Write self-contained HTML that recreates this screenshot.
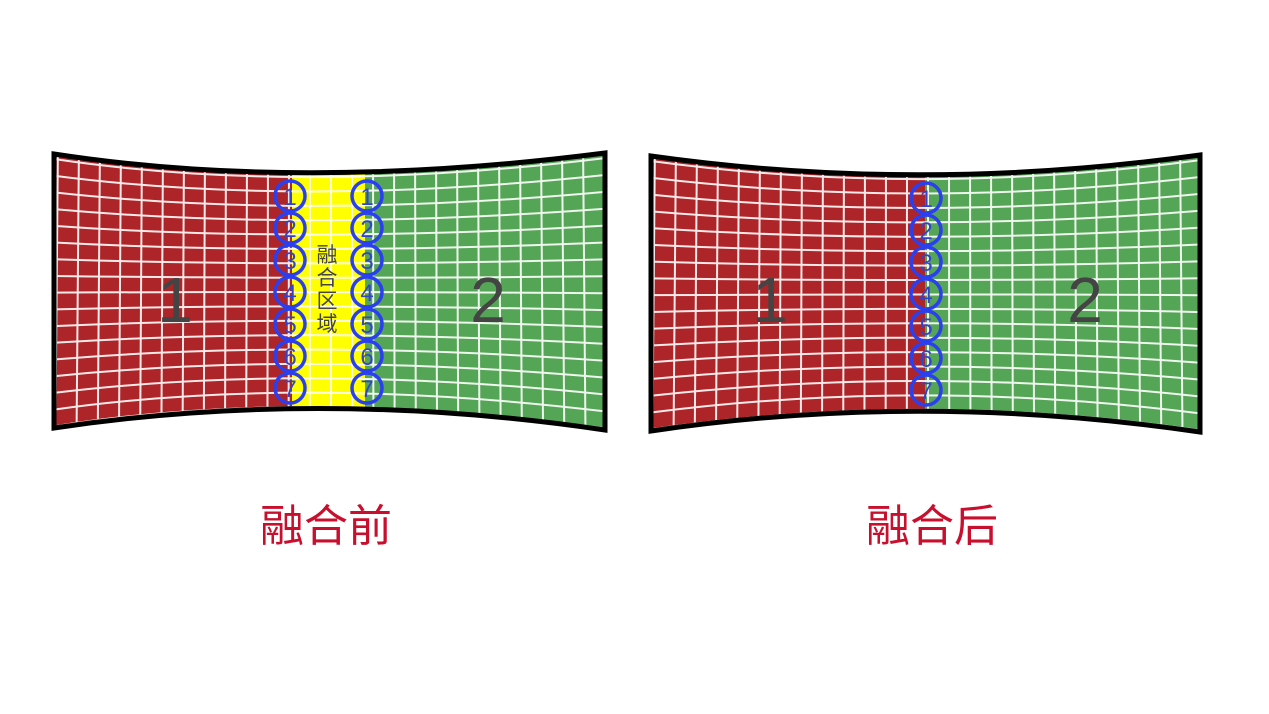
<!DOCTYPE html>
<html><head><meta charset="utf-8"><style>
html,body{margin:0;padding:0;background:#fff;width:1269px;height:714px;overflow:hidden}
svg{display:block}
</style></head><body>
<svg id="s" width="1269" height="714" xmlns="http://www.w3.org/2000/svg">
<defs>
<clipPath id="c1"><path d="M54,154 Q300,192 605,153 L605,430 Q320,388 54,428 Z"/></clipPath>
<clipPath id="c2"><path d="M651,156 Q920,194 1200,155 L1200,432 Q920,391 651,431 Z"/></clipPath>
</defs>
<g clip-path="url(#c1)">
<rect x="40" y="140" width="252" height="300" fill="#ad2528"/>
<rect x="292" y="140" width="73" height="300" fill="#ffff00"/>
<rect x="365" y="140" width="250" height="300" fill="#55a556"/>
<g id="g1" stroke="#fff" stroke-width="2" fill="none" opacity="0.9"></g>
</g>
<g clip-path="url(#c2)">
<rect x="640" y="140" width="285" height="300" fill="#ad2528"/>
<rect x="925" y="140" width="290" height="300" fill="#55a556"/>
<g id="g2" stroke="#fff" stroke-width="2" fill="none" opacity="0.9"></g>
</g>
<path d="M54,154 Q300,192 605,153 L605,430 Q320,388 54,428 Z" fill="none" stroke="#000" stroke-width="5"/>
<path d="M651,156 Q920,194 1200,155 L1200,432 Q920,391 651,431 Z" fill="none" stroke="#000" stroke-width="5"/>
<g id="circ" fill="none" stroke="#2a3ff0" stroke-width="3.5"></g>
<g id="nums" font-family="Liberation Sans, sans-serif" font-size="24" fill="#3344cc" text-anchor="middle"></g>
<g font-family="Liberation Sans, sans-serif" font-size="64" fill="#444" text-anchor="middle">
<text x="175" y="322">1</text><text x="488" y="322">2</text>
<text x="770" y="322">1</text><text x="1085" y="322">2</text>
</g>
<g font-family="Noto Sans CJK SC, sans-serif" font-size="21" fill="#444" text-anchor="middle">
<text x="327" y="262">融</text><text x="327" y="285">合</text><text x="327" y="308">区</text><text x="327" y="331">域</text>
</g>
<g font-family="Liberation Sans, Noto Sans CJK SC, sans-serif" font-size="44" fill="#c8102e" text-anchor="middle">
<text x="326" y="541">融合前</text><text x="932" y="541">融合后</text>
</g>
</svg>
<script>
function grid(id,x0,x1,top,bot){
 var g=document.getElementById(id),h="";
 for(var x=x0+4;x<x1;x+=21){h+='<line x1="'+x+'" y1="140" x2="'+(x+ (x-(x0+x1)/2)*0.01)+'" y2="440"/>';}
 for(var i=0;i<=16;i++){var t=(i+0.3)/16.4;
  var a=top[0]+(bot[0]-top[0])*t,b=top[1]+(bot[1]-top[1])*t,c=top[2]+(bot[2]-top[2])*t;
  h+='<path d="M'+x0+','+a+' Q'+top[3]+','+b+' '+x1+','+c+'"/>';}
 g.innerHTML=h;
}
grid("g1",54,605,[154,192,153,300],[428,388,430]);
grid("g2",651,1200,[156,194,155,920],[431,391,432]);
var ci="",nu="";
function col(x,y0){for(var i=0;i<7;i++){var y=y0+i*32;ci+='<circle cx="'+x+'" cy="'+y+'" r="15"/>';nu+='<text x="'+x+'" y="'+(y+9)+'">'+(i+1)+'</text>';}}
col(290,196);col(367,196);col(926,198);
document.getElementById("circ").innerHTML=ci;document.getElementById("nums").innerHTML=nu;
</script>
</body></html>
